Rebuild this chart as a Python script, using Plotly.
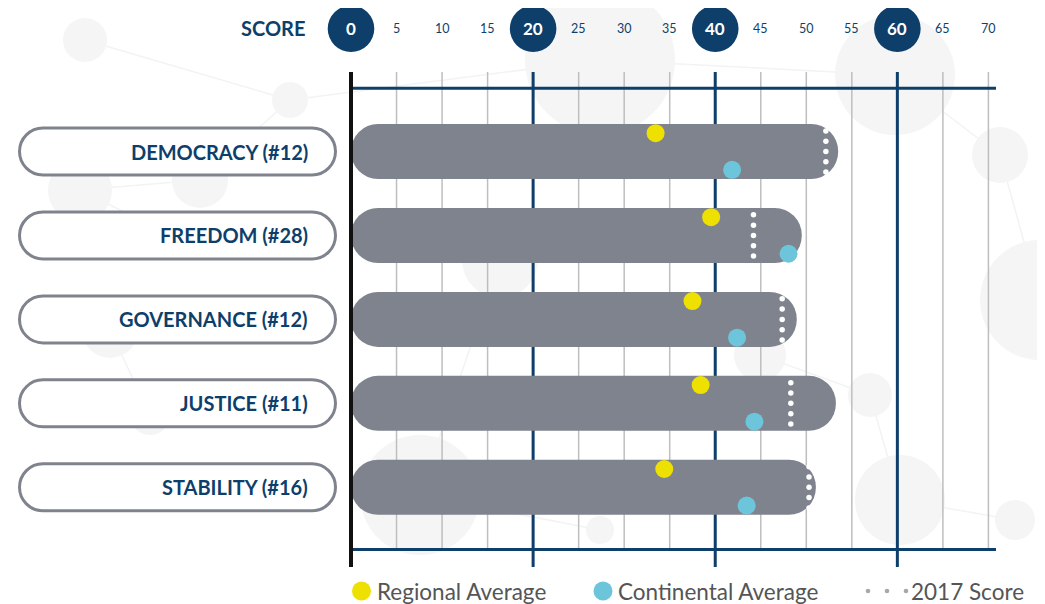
import plotly.graph_objects as go

# ---------------- data ----------------
categories = ["DEMOCRACY (#12)", "FREEDOM (#28)", "GOVERNANCE (#12)", "JUSTICE (#11)", "STABILITY (#16)"]
score = [53.5, 49.5, 48.95, 53.25, 51.05]
score_2017 = [52.15, 44.2, 47.35, 48.3, 50.3]
regional_avg = [33.45, 39.55, 37.5, 38.4, 34.4]
continental_avg = [41.85, 48.05, 42.4, 44.3, 43.45]
tick_values = list(range(0, 75, 5))
major_ticks = [0, 20, 40, 60]
legend_labels = ["Regional Average", "Continental Average", "2017 Score"]

# ---------------- styling ----------------
WIN_W, WIN_H = 1045, 604
OFF = 8                         # page body margin
W, H = WIN_W - OFF, WIN_H - OFF
X0_PX, UX = 351.0, 9.106        # window pixel of score 0, pixels per score unit
Y0_PX, UY = 151.5, 83.95        # window pixel of first category centre, pixels per category
NAVY = "#0E3F6B"
BAR = "#7F838D"
YEL = "#EEE000"
CYAN = "#6CC5DA"
GRID = "#BEBEBE"
TXT = "#555555"
FONT = "Lato"


def px2x(p):
    return (p - X0_PX) / UX


def py2y(p):
    return (p - Y0_PX) / UY


idx = list(range(len(categories)))
bar_w = 55 / UY
dot_off = 18.3 / UY
ticks2017_off = [k * 10.3 / UY for k in (-2, -1, 0, 1, 2)]

fig = go.Figure()

# bars
fig.add_trace(go.Bar(
    x=score, y=idx, orientation="h", width=bar_w, base=0,
    marker=dict(color=BAR, line=dict(width=0)),
    hoverinfo="skip", showlegend=False,
))

# 2017 score dotted markers
xs, ys = [], []
for i, v in zip(idx, score_2017):
    for o in ticks2017_off:
        xs.append(v)
        ys.append(i + o)
fig.add_trace(go.Scatter(
    x=xs, y=ys, mode="markers",
    marker=dict(color="white", size=5.5, line=dict(width=0)),
    showlegend=False, hoverinfo="skip",
))

# regional / continental dots
fig.add_trace(go.Scatter(
    x=regional_avg, y=[i - dot_off for i in idx], mode="markers",
    marker=dict(color=YEL, size=18, line=dict(width=0)),
    showlegend=False, hoverinfo="skip",
))
fig.add_trace(go.Scatter(
    x=continental_avg, y=[i + dot_off for i in idx], mode="markers",
    marker=dict(color=CYAN, size=18, line=dict(width=0)),
    showlegend=False, hoverinfo="skip",
))

shapes = []
annotations = []

# faint background network decoration
bg_nodes = [(600, 60, 75), (895, 75, 60), (1000, 155, 28), (85, 40, 22), (290, 100, 18),
            (80, 190, 32), (200, 180, 28), (110, 330, 28), (150, 415, 20), (160, 230, 14),
            (900, 500, 45), (1015, 520, 20), (600, 530, 14), (420, 495, 60), (870, 395, 22),
            (1040, 300, 60), (500, 260, 38), (760, 355, 26)]
bg_links = [(0, 1), (1, 2), (3, 4), (4, 0), (5, 6), (6, 4), (7, 8), (5, 9), (10, 11), (12, 13),
            (14, 10), (15, 2), (16, 13), (17, 14)]
for a, b in bg_links:
    xa, ya, _ = bg_nodes[a]
    xb, yb, _ = bg_nodes[b]
    shapes.append(dict(type="line", xref="x", yref="y", layer="below",
                       x0=px2x(xa), x1=px2x(xb), y0=py2y(ya), y1=py2y(yb),
                       line=dict(color="#F3F3F3", width=1.5)))
for cx, cy, r in bg_nodes:
    shapes.append(dict(type="circle", xref="x", yref="y", layer="below",
                       x0=px2x(cx - r), x1=px2x(cx + r), y0=py2y(cy - r), y1=py2y(cy + r),
                       fillcolor="#F5F5F5", line=dict(width=0)))

top_y = py2y(72)
line_top = py2y(88.3)
line_bot = py2y(549.5)
major_bot = py2y(567)

# vertical grid lines
for v in tick_values:
    if v == 0:
        shapes.append(dict(type="line", xref="x", yref="y", layer="above",
                           x0=v, x1=v, y0=top_y, y1=major_bot,
                           line=dict(color="#111111", width=4)))
    elif v in major_ticks:
        shapes.append(dict(type="line", xref="x", yref="y", layer="below",
                           x0=v, x1=v, y0=top_y, y1=major_bot,
                           line=dict(color=NAVY, width=3)))
    else:
        shapes.append(dict(type="line", xref="x", yref="y", layer="below",
                           x0=v, x1=v, y0=top_y, y1=line_bot,
                           line=dict(color=GRID, width=1.5)))

# horizontal frame lines
for yy in (line_top, line_bot):
    shapes.append(dict(type="line", xref="x", yref="y", layer="below",
                       x0=0, x1=px2x(996), y0=yy, y1=yy,
                       line=dict(color=NAVY, width=3)))

# top tick labels
lab_y = py2y(28.7)
R = 23.3
for v in tick_values:
    cxp = X0_PX + v * UX
    if v in major_ticks:
        shapes.append(dict(type="circle", xref="x", yref="y", layer="above",
                           x0=px2x(cxp - R), x1=px2x(cxp + R),
                           y0=py2y(28.7 - R), y1=py2y(28.7 + R),
                           fillcolor=NAVY, line=dict(width=0)))
        annotations.append(dict(x=v, y=lab_y, xref="x", yref="y", text=f"<b>{v}</b>",
                                showarrow=False, xanchor="center", yanchor="middle",
                                font=dict(family=FONT, size=17, color="white")))
    else:
        annotations.append(dict(x=v, y=lab_y, xref="x", yref="y", text=str(v),
                                showarrow=False, xanchor="center", yanchor="middle",
                                font=dict(family=FONT, size=12.5, color=NAVY)))

annotations.append(dict(x=px2x(307), y=py2y(28), xref="x", yref="y", text="<b>SCORE</b>",
                        showarrow=False, xanchor="right", yanchor="middle",
                        font=dict(family=FONT, size=20, color=NAVY)))


# label pills
def pill_path(xl, xr, yc, hh):
    # xl, xr, yc, hh in window pixels -> path in data coordinates
    r = hh
    k = 0.5523 * r
    pts = []
    pts.append(f"M{px2x(xl + r)},{py2y(yc - r)}")
    pts.append(f"L{px2x(xr - r)},{py2y(yc - r)}")
    pts.append(f"C{px2x(xr - r + k)},{py2y(yc - r)} {px2x(xr)},{py2y(yc - k)} {px2x(xr)},{py2y(yc)}")
    pts.append(f"C{px2x(xr)},{py2y(yc + k)} {px2x(xr - r + k)},{py2y(yc + r)} {px2x(xr - r)},{py2y(yc + r)}")
    pts.append(f"L{px2x(xl + r)},{py2y(yc + r)}")
    pts.append(f"C{px2x(xl + r - k)},{py2y(yc + r)} {px2x(xl)},{py2y(yc + k)} {px2x(xl)},{py2y(yc)}")
    pts.append(f"C{px2x(xl)},{py2y(yc - k)} {px2x(xl + r - k)},{py2y(yc - r)} {px2x(xl + r)},{py2y(yc - r)}")
    return " ".join(pts) + " Z"


for i, name in zip(idx, categories):
    ycp = Y0_PX + i * UY
    shapes.append(dict(type="path", xref="x", yref="y", layer="below",
                       path=pill_path(19.5, 335.5, ycp, 23.5),
                       fillcolor="white", line=dict(color=BAR, width=3)))
    annotations.append(dict(x=px2x(310), y=i, xref="x", yref="y", text=f"<b>{name}</b>",
                            showarrow=False, xanchor="right", yanchor="middle",
                            font=dict(family=FONT, size=20, color=NAVY)))

# legend
leg_y = py2y(591)
for cxp, col in ((361.5, YEL), (603, CYAN)):
    shapes.append(dict(type="circle", xref="x", yref="y", layer="above",
                       x0=px2x(cxp - 9.5), x1=px2x(cxp + 9.5),
                       y0=py2y(591 - 9.5), y1=py2y(591 + 9.5),
                       fillcolor=col, line=dict(width=0)))
for cxp in (868, 887, 906):
    shapes.append(dict(type="circle", xref="x", yref="y", layer="above",
                       x0=px2x(cxp - 2.3), x1=px2x(cxp + 2.3),
                       y0=py2y(591 - 2.3), y1=py2y(591 + 2.3),
                       fillcolor="#A8A8A8", line=dict(width=0)))
for xl, txt in zip((375, 616, 909), legend_labels):
    annotations.append(dict(x=px2x(xl), y=leg_y, xref="x", yref="y", text=txt,
                            showarrow=False, xanchor="left", yanchor="middle",
                            font=dict(family=FONT, size=22.5, color=TXT)))

fig.update_layout(
    width=W, height=H,
    margin=dict(l=0, r=0, t=0, b=0, pad=0),
    paper_bgcolor="white", plot_bgcolor="white",
    barcornerradius="50%",
    showlegend=False,
    xaxis=dict(range=[px2x(OFF), px2x(WIN_W)], visible=False, fixedrange=True),
    yaxis=dict(range=[py2y(WIN_H), py2y(OFF)], visible=False, fixedrange=True),
    shapes=shapes, annotations=annotations,
)

fig.write_html("out.html")
